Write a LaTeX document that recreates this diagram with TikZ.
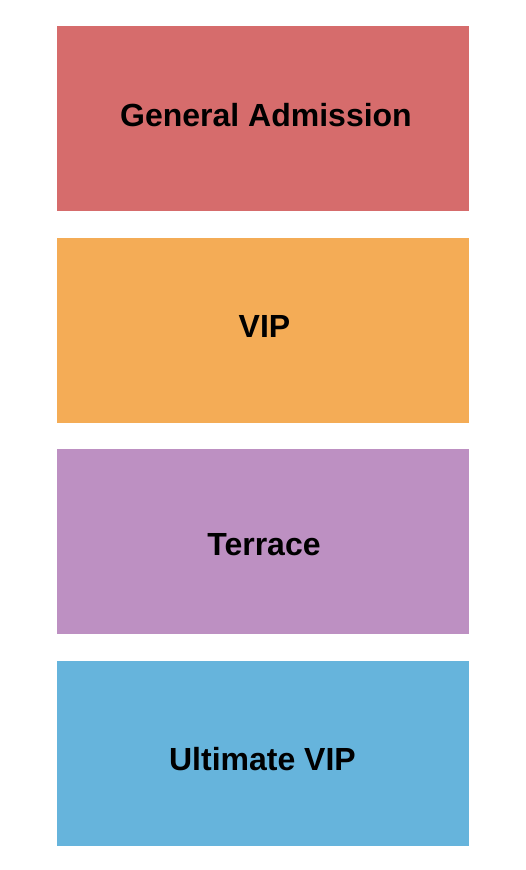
\documentclass[tikz,border=0pt]{standalone}
\usepackage{fontspec}
\setmainfont{Liberation Sans}
\usepackage{tikz}
\usetikzlibrary{positioning}
\definecolor{gacolor}{RGB}{214,108,108}
\definecolor{vipcolor}{RGB}{244,172,86}
\definecolor{terracecolor}{RGB}{189,144,194}
\definecolor{ultimatecolor}{RGB}{102,180,220}

\begin{document}
\begin{tikzpicture}[x=1pt, y=-1pt,
    zone/.style={minimum width=412pt, minimum height=185pt, inner sep=0pt, outer sep=0pt},
    zonelabel/.style={font=\fontsize{32}{38}\selectfont\bfseries, anchor=base, inner sep=0pt}]
    \useasboundingbox (0,0) rectangle (525,870);
    % sections
    \node[zone, fill=gacolor, anchor=north west] (ga) at (57,26) {};
    \node[zone, fill=vipcolor, below=26.5pt of ga] (vip) {};
    \node[zone, fill=terracecolor, below=26.5pt of vip] (terrace) {};
    \node[zone, fill=ultimatecolor, below=26.5pt of terrace] (ultimate) {};
    % labels
    \node[zonelabel] (gaLabel) at ([xshift=3pt, yshift=-8.2pt]ga.center) {General Admission};
    \node[zonelabel] (vipLabel) at ([xshift=1.5pt, yshift=-7.7pt]vip.center) {VIP};
    \node[zonelabel] (terraceLabel) at ([xshift=1pt, yshift=-14.2pt]terrace.center) {Terrace};
    \node[zonelabel] (ultimateLabel) at ([xshift=-0.5pt, yshift=-17.7pt]ultimate.center) {Ultimate VIP};
\end{tikzpicture}
\end{document}
